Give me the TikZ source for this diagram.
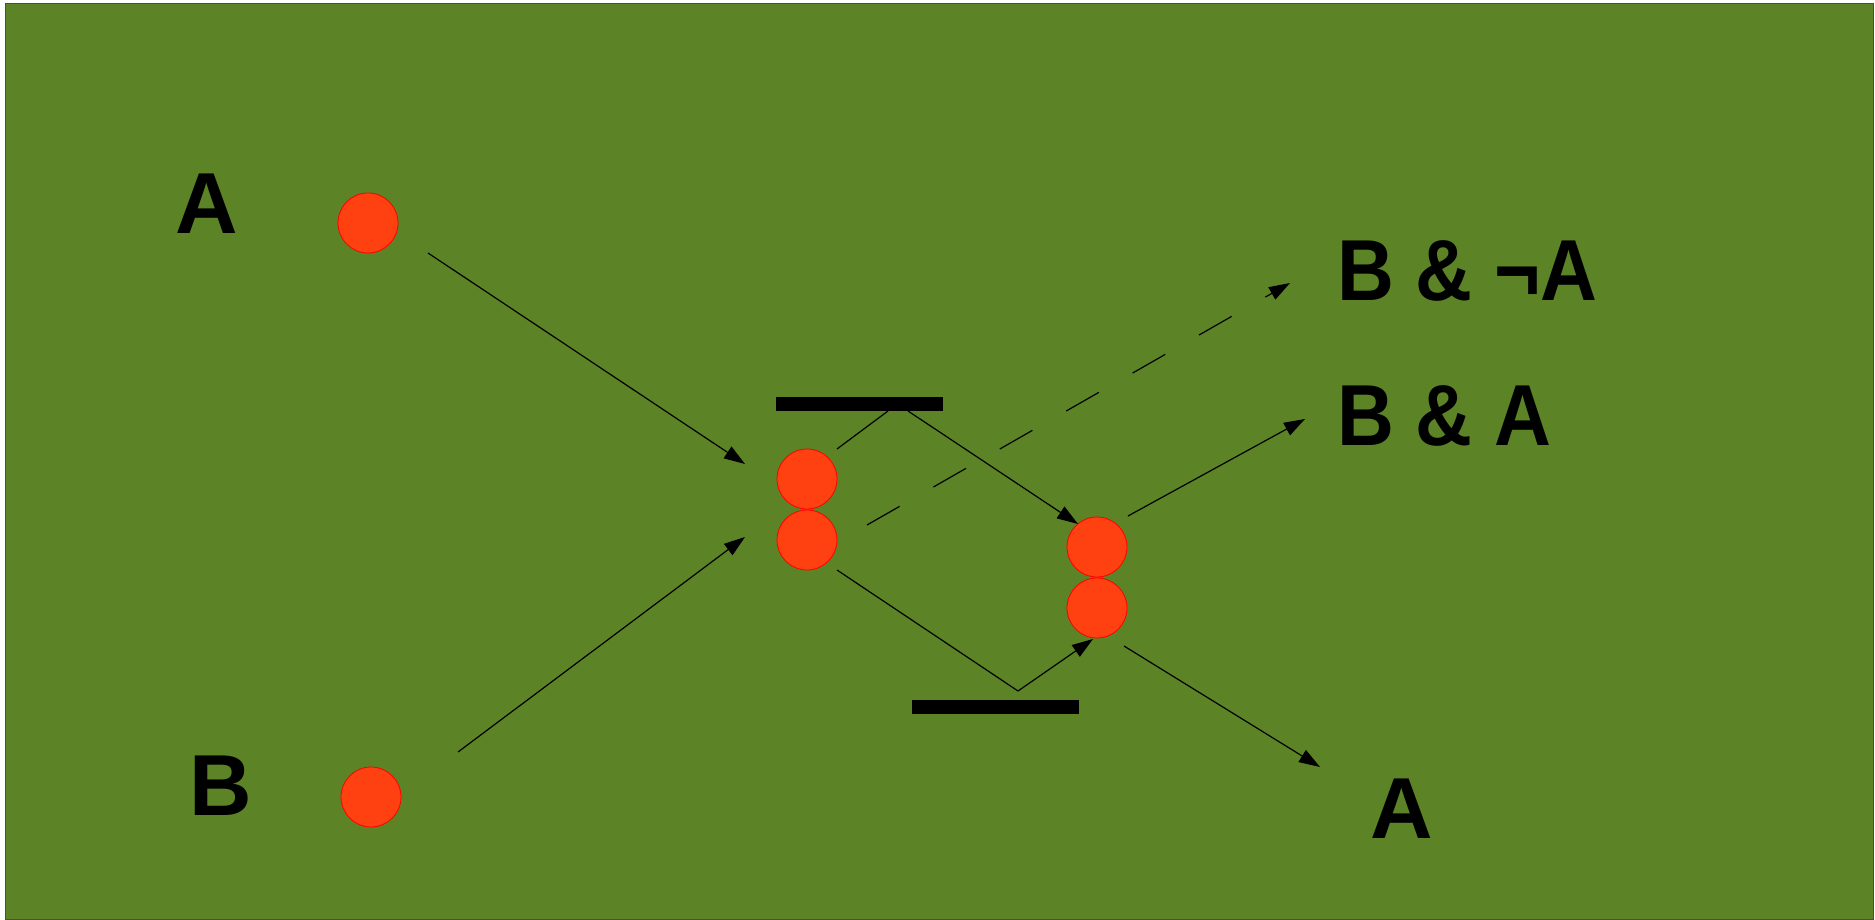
\documentclass[tikz,border=0pt]{standalone}
\usepackage{fontspec}
\newfontfamily\labfont{Liberation Sans}
\newfontfamily\labfontn[FakeStretch=0.91]{Liberation Sans}
\usetikzlibrary{arrows.meta}
\definecolor{bg}{RGB}{92,132,39}
\definecolor{dot}{RGB}{255,64,16}
\begin{document}
\begin{tikzpicture}[x=1pt,y=-1pt,
  ball/.style={circle,fill=dot,draw=red,line width=0.8pt,minimum size=60pt,inner sep=0pt},
  bar/.style={fill=black,inner sep=0pt,minimum width=167pt,minimum height=14pt},
  lab/.style={anchor=base west,inner sep=0pt,font=\labfont\bfseries\fontsize{86.6}{100}\selectfont},
  labn/.style={anchor=base west,inner sep=0pt,font=\labfontn\bfseries\fontsize{86.6}{100}\selectfont},
  conn/.style={line width=1.2pt},
  arr/.style={conn,-{Triangle[length=21pt,width=14pt]}}]
\useasboundingbox (0,0) rectangle (1875,920);
\draw[fill=bg,draw=black!70,line width=1pt] (5,4) rectangle (1873,919);
% circles
\node[ball] (a) at (368,223) {};
\node[ball] (b) at (371,797) {};
\node[ball] (m1) at (807,479) {};
\node[ball] (m2) at (807,540) {};
\node[ball] (r1) at (1097,547) {};
\node[ball] (r2) at (1097,608) {};
% bars
\node[bar] (bt) at (859.5,404) {};
\node[bar] (bb) at (995.5,706.5) {};
% labels
\node[lab] (la) at (175,234) {A};
\node[lab] (lb) at (189,815) {B};
\node[labn] (o1) at (1337,301) {B \& ¬A};
\node[labn] (o2) at (1337,445) {B \& A};
\node[lab] (o3) at (1370,838) {A};
% connector ends
\coordinate (aout) at (428,253);
\coordinate (mina) at (745,464);
\coordinate (bout) at (458,752);
\coordinate (minb) at (745,537);
\coordinate (m1out) at (837,449);
\coordinate (btin) at (888,411);
\coordinate (btout) at (908,411);
\coordinate (r1in) at (1078,524);
\coordinate (m2out) at (837,570);
\coordinate (v) at (1018,691);
\coordinate (r2in) at (1093,639);
\coordinate (mdash) at (867,525);
\coordinate (o1in) at (1290,283);
\coordinate (r1out) at (1128,516);
\coordinate (o2in) at (1305,419);
\coordinate (r2out) at (1124,646);
\coordinate (o3in) at (1320,767);
% connectors
\draw[arr] (aout) -- (mina);
\draw[arr] (bout) -- (minb);
\draw[conn] (m1out) -- (btin);
\draw[arr] (btout) -- (r1in);
\draw[arr] (m2out) -- (v) -- (r2in);
\draw[arr,dash pattern=on 37.6pt off 38.9pt] (mdash) -- (o1in);
\draw[arr] (r1out) -- (o2in);
\draw[arr] (r2out) -- (o3in);
\end{tikzpicture}
\end{document}
